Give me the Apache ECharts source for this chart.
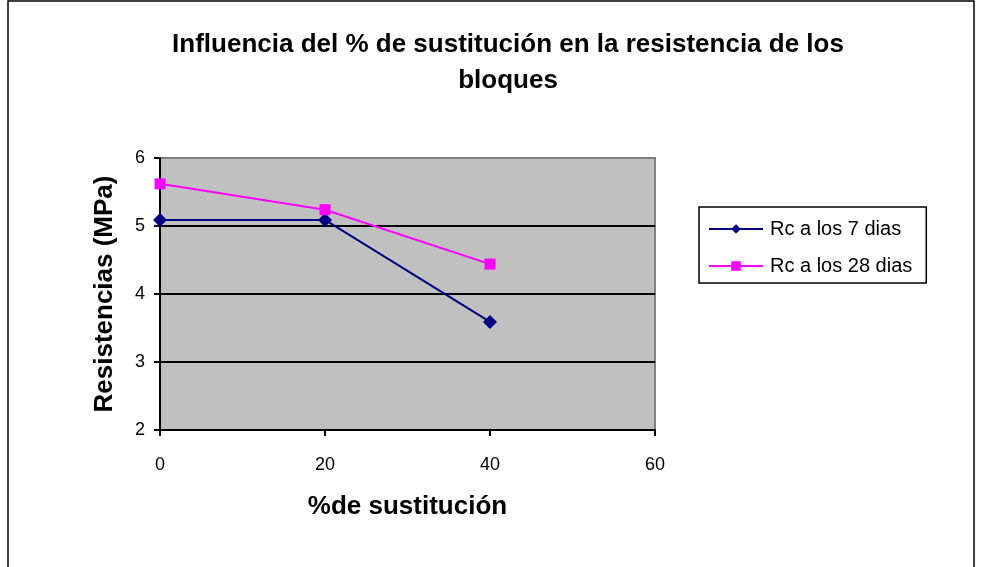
<!DOCTYPE html>
<html>
<head>
<meta charset="utf-8">
<script src="https://cdn.jsdelivr.net/npm/echarts@6/dist/echarts.min.js"></script>
<style>html,body{margin:0;padding:0;background:#fff;}#c{width:982px;height:567px;}</style>
</head>
<body>
<div id="c"></div>
<script>
var xValues = [0, 20, 40];
var rc7 = [5.09, 5.09, 3.59];
var rc28 = [5.62, 5.24, 4.44];
var seriesNames = ['Rc a los 7 dias', 'Rc a los 28 dias'];
var titleText = 'Influencia del % de sustitución en la resistencia de los\nbloques';
var xTitle = '%de sustitución';
var yTitle = 'Resistencias (MPa)';

function pairs(xs, ys) { return xs.map(function (x, i) { return [x, ys[i]]; }); }

var chart = echarts.init(document.getElementById('c'));
var font = 'Liberation Sans, Arial, sans-serif';
chart.setOption({
  backgroundColor: '#ffffff',
  animation: false,
  title: {
    text: titleText,
    left: 503, top: 22, textAlign: 'center',
    textStyle: { fontFamily: font, fontSize: 26, fontWeight: 'bold', color: '#000', lineHeight: 36 }
  },
  grid: {
    left: 160, right: 327, top: 158, bottom: 137,
    show: true, backgroundColor: '#c0c0c0', borderColor: '#808080', borderWidth: 2
  },
  legend: {
    orient: 'vertical', left: 699, top: 207,
    padding: [12, 14, 7, 9],
    itemGap: 17,
    itemWidth: 54, itemHeight: 12,
    borderColor: '#000', borderWidth: 1.5,
    textStyle: { fontFamily: font, fontSize: 20, color: '#000', padding: [0, 0, 0, 2] },
    data: seriesNames
  },
  xAxis: {
    type: 'value', min: 0, max: 60, interval: 20,
    name: xTitle, nameLocation: 'middle', nameGap: 64,
    nameTextStyle: { fontFamily: font, fontSize: 26, fontWeight: 'bold', color: '#000', verticalAlign: 'top' },
    axisLine: { show: true, lineStyle: { color: '#000', width: 2 } },
    axisTick: { show: true, length: 6, lineStyle: { color: '#000', width: 2 } },
    axisLabel: { fontFamily: font, fontSize: 18, color: '#000', margin: 26 },
    splitLine: { show: false }
  },
  yAxis: {
    type: 'value', min: 2, max: 6, interval: 1,
    name: yTitle, nameLocation: 'middle', nameGap: 42, nameRotate: 90,
    nameTextStyle: { fontFamily: font, fontSize: 26, fontWeight: 'bold', color: '#000' },
    axisLine: { show: true, lineStyle: { color: '#000', width: 2 } },
    axisTick: { show: true, length: 6, lineStyle: { color: '#000', width: 2 } },
    axisLabel: { fontFamily: font, fontSize: 18, color: '#000', margin: 15 },
    splitLine: { show: true, lineStyle: { color: ['#000', '#000', '#000', '#000', '#808080'], width: 2 } }
  },
  graphic: [{
    type: 'rect',
    shape: { x: 8, y: 1, width: 966, height: 600 },
    style: { fill: 'none', stroke: '#000', lineWidth: 1.5 },
    silent: true
  }],
  series: [{
    name: seriesNames[0], type: 'line', data: pairs(xValues, rc7),
    symbol: 'diamond', symbolSize: 14,
    lineStyle: { color: '#000080', width: 2 },
    itemStyle: { color: '#000080' }
  }, {
    name: seriesNames[1], type: 'line', data: pairs(xValues, rc28),
    symbol: 'rect', symbolSize: 11,
    lineStyle: { color: '#ff00ff', width: 2 },
    itemStyle: { color: '#ff00ff' }
  }]
});
</script>
</body>
</html>
